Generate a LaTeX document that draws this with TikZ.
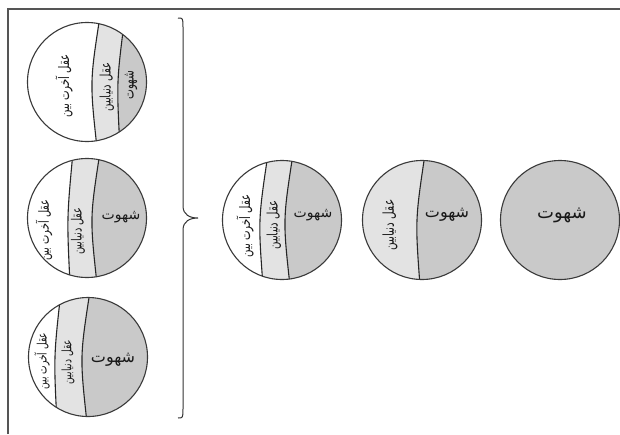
\documentclass[tikz,border=0pt]{standalone}
\usepackage{fontspec}
\newfontfamily\arabicfont[Script=Arabic]{DejaVu Sans}
\newfontfamily\arabicnarrow[Script=Arabic, FakeStretch=0.7]{DejaVu Sans}
\TeXXeTstate=1
\definecolor{lightpart}{HTML}{E3E3E3}
\definecolor{darkpart}{HTML}{C9C9C9}
\definecolor{rimcol}{HTML}{3A3A3A}
\definecolor{framecol}{HTML}{555555}
\newcommand\fa[1]{\beginR #1\endR}
\tikzset{
  rim/.style={circle, draw=rimcol, line width=1.1pt, minimum size=119pt, inner sep=0pt},
  divider/.style={draw=black!85, line width=1.1pt},
  fatext/.style={inner sep=0pt, text=black!90, font=\arabicfont\fontsize{#1}{#1}\selectfont},
  vtext/.style={inner sep=0pt, text=black!90, font=\arabicnarrow\fontsize{#1}{#1}\selectfont, rotate=90},
  bracestroke/.style={draw=black!80, line width=1pt},
}
\begin{document}
\begin{tikzpicture}[x=1pt, y=-1pt]
\useasboundingbox (0,0) rectangle (620,434);
\fill[white] (0,0) rectangle (620,434);

% frame: top and left edges only
\draw[framecol, line width=2.2pt] (8,434) -- (8,9) -- (620,9);

% circles: name / centre / white-light divider (top,mid,bottom x) / light-dark divider
\foreach \nm/\cx/\cy/\at/\am/\ab/\bt/\bm/\bb in {
  A/87/82/100/92/97/125/118/120,
  B/87/218/73/68/70/100/92/97,
  C/88/357/61/55/57/90/82/87,
  D/282/220/268/260/263/293/285/290,
  E/422/220/300/300/300/425/417/420,
  F/560/220/400/400/400/400/400/400}{
  \begin{scope}
    \clip (\cx,\cy) circle (59.5);
    \fill[darkpart] (\cx-70,\cy-70) rectangle (\cx+70,\cy+70);
    \fill[lightpart] (\bt,\cy-66) .. controls ({(8*\bm-\bt-\bb)/6},\cy) .. (\bb,\cy+66)
      -- (\cx-80,\cy+66) -- (\cx-80,\cy-66) -- cycle;
    \fill[white] (\at,\cy-66) .. controls ({(8*\am-\at-\ab)/6},\cy) .. (\ab,\cy+66)
      -- (\cx-80,\cy+66) -- (\cx-80,\cy-66) -- cycle;
    \draw[divider] (\bt,\cy-66) .. controls ({(8*\bm-\bt-\bb)/6},\cy) .. (\bb,\cy+66);
    \draw[divider] (\at,\cy-66) .. controls ({(8*\am-\at-\ab)/6},\cy) .. (\ab,\cy+66);
  \end{scope}
  \node[rim] (circ\nm) at (\cx,\cy) {};
}

% brace gathering the three left circles
\draw[bracestroke] (178,18) .. controls (183,18) .. (183,28) -- (183,206)
  .. controls (183,215) and (190,218) .. (198,218)
  .. controls (190,218) and (183,221) .. (183,230) -- (183,408)
  .. controls (183,418) .. (178,418);

% labels
\node[vtext=14.5] (tA1) at (64,86) {\fa{عقل آخرت بین}};
\node[vtext=14.5] (tA2) at (107,87) {\fa{عقل دنیابین}};
\node[vtext=15] (tA3) at (131,85) {\fa{شهوت}};

\node[vtext=14] (tB1) at (44,230) {\fa{عقل آخرت بین}};
\node[vtext=14] (tB2) at (78,231) {\fa{عقل دنیابین}};
\node[fatext=14] (tB3) at (121,217) {\fa{شهوت}};

\node[vtext=13] (tC1) at (42,361) {\fa{عقل آخرت بین}};
\node[vtext=13] (tC2) at (68,362) {\fa{عقل دنیابین}};
\node[fatext=16] (tC3) at (113,360) {\fa{شهوت}};

\node[vtext=14.5] (tD1) at (245,226) {\fa{عقل آخرت بین}};
\node[vtext=14.5] (tD2) at (274,225) {\fa{عقل دنیابین}};
\node[fatext=14] (tD3) at (313,215) {\fa{شهوت}};

\node[vtext=15] (tE1) at (390,225) {\fa{عقل دنیابین}};
\node[fatext=16] (tE2) at (447,215) {\fa{شهوت}};

\node[fatext=18] (tF1) at (562,215) {\fa{شهوت}};
\end{tikzpicture}
\end{document}
